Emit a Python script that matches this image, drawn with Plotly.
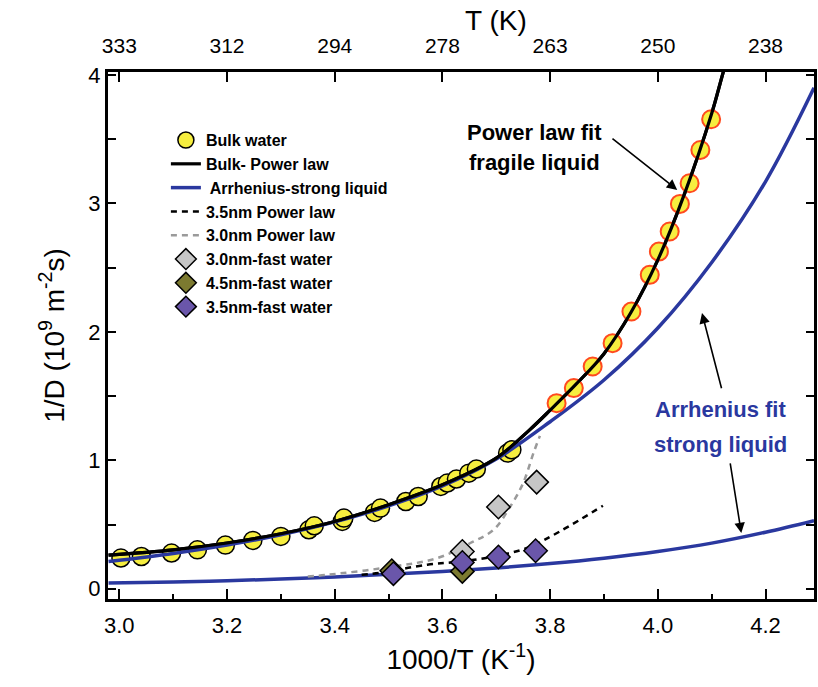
import plotly.graph_objects as go

# ---------------- data ----------------
bulk_x = [3.003, 3.041, 3.097, 3.145, 3.197, 3.248, 3.300, 3.352, 3.362, 3.414, 3.417,
          3.474, 3.485, 3.532, 3.555, 3.597, 3.609, 3.626, 3.649, 3.663, 3.721, 3.729]
bulk_y = [0.239, 0.251, 0.278, 0.303, 0.340, 0.376, 0.407, 0.459, 0.490, 0.524, 0.550,
          0.594, 0.628, 0.679, 0.718, 0.796, 0.823, 0.854, 0.900, 0.932, 1.056, 1.082]

super_x = [3.812, 3.844, 3.879, 3.916, 3.951, 3.985, 4.002, 4.022, 4.041, 4.059, 4.079, 4.099, 4.125]
super_y = [1.445, 1.562, 1.730, 1.912, 2.158, 2.444, 2.625, 2.781, 2.996, 3.157, 3.416, 3.655, 4.10]

power_x = [2.98, 3.1, 3.2, 3.3, 3.4, 3.5, 3.6, 3.7, 3.762, 3.8, 3.85, 3.9, 3.95, 4.0, 4.05, 4.1, 4.12, 4.135]
power_y = [0.261, 0.303, 0.356, 0.428, 0.524, 0.654, 0.809, 1.017, 1.237, 1.39, 1.60, 1.83, 2.15, 2.56, 3.08, 3.70, 4.0, 4.22]

arrh_hi_x = [2.98, 3.1, 3.2, 3.3, 3.4, 3.5, 3.6, 3.7, 3.8, 3.9, 4.0, 4.1, 4.2, 4.29]
arrh_hi_y = [0.212, 0.275, 0.34, 0.42, 0.52, 0.645, 0.80, 1.01, 1.30, 1.625, 2.03, 2.54, 3.17, 3.90]

arrh_lo_x = [2.98, 3.1, 3.2, 3.3, 3.4, 3.5, 3.6, 3.7, 3.8, 3.9, 4.0, 4.1, 4.2, 4.29]
arrh_lo_y = [0.045, 0.053, 0.062, 0.075, 0.092, 0.112, 0.135, 0.162, 0.196, 0.238, 0.29, 0.355, 0.44, 0.53]

pl35_x = [3.45, 3.486, 3.572, 3.634, 3.695, 3.757, 3.818, 3.898]
pl35_y = [0.108, 0.125, 0.187, 0.212, 0.251, 0.317, 0.446, 0.646]

pl30_x = [3.35, 3.388, 3.511, 3.591, 3.652, 3.695, 3.726, 3.750, 3.769, 3.781]
pl30_y = [0.095, 0.109, 0.174, 0.239, 0.356, 0.459, 0.640, 0.823, 1.056, 1.19]

fast30_x = [3.637, 3.704, 3.775]
fast30_y = [0.290, 0.636, 0.830]
fast45_x = [3.506, 3.637]
fast45_y = [0.140, 0.135]
fast35_x = [3.509, 3.637, 3.704, 3.773]
fast35_y = [0.117, 0.205, 0.247, 0.296]

xticks = [3.0, 3.2, 3.4, 3.6, 3.8, 4.0, 4.2]
top_labels = ["333", "312", "294", "278", "263", "250", "238"]

# ---------------- styling ----------------
FONT = "Liberation Sans, Arial, sans-serif"
BLUE = "#2a389f"
YELLOW = "#f6ee3f"

fig = go.Figure()

fig.add_trace(go.Scatter(x=bulk_x, y=bulk_y, mode="markers", name="Bulk water",
                         marker=dict(symbol="circle", size=18, color=YELLOW,
                                     line=dict(color="black", width=1.5))))
fig.add_trace(go.Scatter(x=power_x, y=power_y, mode="lines", name="Bulk- Power law",
                         line=dict(color="black", width=3.2, shape="spline")))
fig.add_trace(go.Scatter(x=arrh_hi_x, y=arrh_hi_y, mode="lines", name=" Arrhenius-strong liquid",
                         line=dict(color=BLUE, width=3.5, shape="spline")))
fig.add_trace(go.Scatter(x=arrh_lo_x, y=arrh_lo_y, mode="lines", showlegend=False,
                         line=dict(color=BLUE, width=3.5, shape="spline")))
fig.add_trace(go.Scatter(x=super_x, y=super_y, mode="markers", showlegend=False,
                         marker=dict(symbol="circle", size=18, color=YELLOW,
                                     line=dict(color="#ff4a1f", width=2))))
# re-draw power law over the supercooled points
fig.add_trace(go.Scatter(x=power_x, y=power_y, mode="lines", showlegend=False,
                         line=dict(color="black", width=3.2, shape="spline")))
fig.add_trace(go.Scatter(x=pl35_x, y=pl35_y, mode="lines", name="3.5nm Power law",
                         line=dict(color="black", width=2.5, dash="6px,5px", shape="spline")))
fig.add_trace(go.Scatter(x=pl30_x, y=pl30_y, mode="lines", name="3.0nm Power law",
                         line=dict(color="#9a9a9a", width=2.5, dash="6px,5px", shape="spline")))
fig.add_trace(go.Scatter(x=fast30_x, y=fast30_y, mode="markers", name="3.0nm-fast water",
                         marker=dict(symbol="diamond", size=18, color="#c6c6c6",
                                     line=dict(color="black", width=1.5))))
fig.add_trace(go.Scatter(x=fast45_x, y=fast45_y, mode="markers", name="4.5nm-fast water",
                         marker=dict(symbol="diamond", size=18, color="#7c7a30",
                                     line=dict(color="black", width=1.5))))
fig.add_trace(go.Scatter(x=fast35_x, y=fast35_y, mode="markers", name="3.5nm-fast water",
                         marker=dict(symbol="diamond", size=18, color="#6a56aa",
                                     line=dict(color="black", width=1.5))))
# dummy trace to activate the top axis
fig.add_trace(go.Scatter(x=[3.0], y=[None], xaxis="x2", showlegend=False, hoverinfo="skip"))

XR = [2.979, 4.29]
fig.update_layout(
    width=818, height=687,
    margin=dict(l=108, r=1, t=72, b=88),
    paper_bgcolor="white", plot_bgcolor="white",
    font=dict(family=FONT, color="black"),
    showlegend=True,
    legend=dict(x=0.082, y=0.903, xanchor="left", yanchor="top",
                bgcolor="rgba(0,0,0,0)", tracegroupgap=0,
                font=dict(family=FONT, size=16, weight="bold", color="black")),
    xaxis=dict(range=XR, showgrid=False, zeroline=False,
               showline=True, linecolor="black", linewidth=3,
               ticks="inside", ticklen=10, tickwidth=2, tickcolor="black",
               tickvals=xticks, ticktext=["%.1f" % v for v in xticks],
               tickfont=dict(family=FONT, size=22), ticklabelstandoff=5,
               minor=dict(ticks="inside", ticklen=5, tickwidth=2, dtick=0.1, tick0=3.0,
                          tickcolor="black"),
               title=dict(text="1000/T (K<sup>-1</sup>)", font=dict(family=FONT, size=28),
                          standoff=12)),
    xaxis2=dict(range=XR, overlaying="x", side="top", showgrid=False, zeroline=False,
                showline=True, linecolor="black", linewidth=3,
                ticks="inside", ticklen=10, tickwidth=2, tickcolor="black",
                tickvals=xticks, ticktext=top_labels,
                tickfont=dict(family=FONT, size=21), ticklabelstandoff=8),
    yaxis=dict(range=[-0.08, 4.023], showgrid=False, zeroline=False,
               showline=True, linecolor="black", linewidth=3, mirror="ticks",
               ticks="inside", ticklen=8, tickwidth=2, tickcolor="black",
               tickvals=[0, 1, 2, 3, 4],
               tickfont=dict(family=FONT, size=22), ticklabelstandoff=0,
               minor=dict(ticks="inside", ticklen=8, tickwidth=2, dtick=0.5, tick0=0,
                          tickcolor="black"),
               title=dict(text="1/D (10<sup>9</sup> m<sup>-2</sup>s)",
                          font=dict(family=FONT, size=28), standoff=16)),
)

# top axis title (sits right of centre in the reference)
fig.add_annotation(x=(498 - 108) / 709, y=1.0, xref="paper", yref="paper",
                   yanchor="middle", yshift=52, showarrow=False, text="T (K)",
                   font=dict(family=FONT, size=28, color="black"))

# labels
labels = [
    ("<b>Power law fit</b>", 3.771, 3.55, "black"),
    ("<b>fragile liquid</b>", 3.771, 3.315, "black"),
    ("<b>Arrhenius fit</b>", 4.117, 1.395, BLUE),
    ("<b>strong liquid</b>", 4.117, 1.12, BLUE),
]
for txt, lx, ly, col in labels:
    fig.add_annotation(x=lx, y=ly, xref="x", yref="y", showarrow=False, text=txt,
                       font=dict(family=FONT, size=22, color=col), align="center")

for (tx, ty, hx, hy) in [(3.913, 3.514, 4.036, 3.105),
                         (4.119, 1.549, 4.082, 2.146),
                         (4.134, 0.988, 4.155, 0.433)]:
    fig.add_annotation(x=hx, y=hy, ax=tx, ay=ty, xref="x", yref="y", axref="x", ayref="y",
                       text="", showarrow=True, arrowhead=2, arrowsize=1.3,
                       arrowwidth=1.6, arrowcolor="black")

fig.write_html("out.html")
